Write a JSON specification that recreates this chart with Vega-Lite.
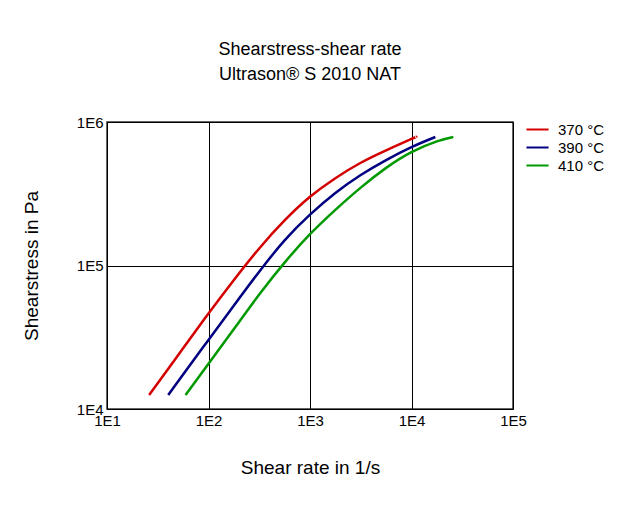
{
  "$schema": "https://vega.github.io/schema/vega-lite/v6.json",
  "autosize": {"type": "none"},
  "padding": {"left": 107, "top": 122, "right": 121, "bottom": 112},
  "width": 406,
  "height": 287,
  "background": "white",
  "title": {
    "text": ["Shearstress-shear rate", "Ultrason® S 2010 NAT"],
    "anchor": "middle",
    "font": "Liberation Sans",
    "fontSize": 18,
    "fontWeight": "normal",
    "color": "#000000",
    "lineHeight": 25,
    "offset": 31
  },
  "data": {
    "values": [
      {"temp": "370 °C", "rate": 26.0, "stress": 12500},
      {"temp": "370 °C", "rate": 31.6, "stress": 15100},
      {"temp": "370 °C", "rate": 56.2, "stress": 26500},
      {"temp": "370 °C", "rate": 100, "stress": 46300},
      {"temp": "370 °C", "rate": 178, "stress": 79300},
      {"temp": "370 °C", "rate": 316, "stress": 131500},
      {"temp": "370 °C", "rate": 562, "stress": 206000},
      {"temp": "370 °C", "rate": 1000, "stress": 301000},
      {"temp": "370 °C", "rate": 1778, "stress": 406000},
      {"temp": "370 °C", "rate": 3162, "stress": 520000},
      {"temp": "370 °C", "rate": 5623, "stress": 635000},
      {"temp": "370 °C", "rate": 10000, "stress": 762000},
      {"temp": "370 °C", "rate": 11120, "stress": 787000},
      {"temp": "390 °C", "rate": 40.1, "stress": 12500},
      {"temp": "390 °C", "rate": 56.2, "stress": 17400},
      {"temp": "390 °C", "rate": 100, "stress": 30300},
      {"temp": "390 °C", "rate": 178, "stress": 52700},
      {"temp": "390 °C", "rate": 316, "stress": 90600},
      {"temp": "390 °C", "rate": 562, "stress": 149600},
      {"temp": "390 °C", "rate": 1000, "stress": 226000},
      {"temp": "390 °C", "rate": 1778, "stress": 320000},
      {"temp": "390 °C", "rate": 3162, "stress": 427000},
      {"temp": "390 °C", "rate": 5623, "stress": 543000},
      {"temp": "390 °C", "rate": 10000, "stress": 668000},
      {"temp": "390 °C", "rate": 17180, "stress": 786000},
      {"temp": "410 °C", "rate": 59.4, "stress": 12500},
      {"temp": "410 °C", "rate": 100, "stress": 20700},
      {"temp": "410 °C", "rate": 178, "stress": 36100},
      {"temp": "410 °C", "rate": 316, "stress": 62800},
      {"temp": "410 °C", "rate": 562, "stress": 104800},
      {"temp": "410 °C", "rate": 1000, "stress": 165200},
      {"temp": "410 °C", "rate": 1778, "stress": 244300},
      {"temp": "410 °C", "rate": 3162, "stress": 349000},
      {"temp": "410 °C", "rate": 5623, "stress": 479000},
      {"temp": "410 °C", "rate": 10000, "stress": 617000},
      {"temp": "410 °C", "rate": 17780, "stress": 733000},
      {"temp": "410 °C", "rate": 25820, "stress": 787000}
    ]
  },
  "mark": {"type": "line", "strokeWidth": 2.5, "interpolate": "natural", "clip": true},
  "encoding": {
    "x": {
      "field": "rate",
      "type": "quantitative",
      "scale": {"type": "log", "domain": [10, 100000], "nice": false},
      "axis": {
        "values": [10, 100, 1000, 10000, 100000],
        "labelExpr": "'1E' + round(log(datum.value) / LN10)",
        "title": "Shear rate in 1/s",
        "titlePadding": 30,
        "labelPadding": 4,
        "labelFlush": false
      }
    },
    "y": {
      "field": "stress",
      "type": "quantitative",
      "scale": {"type": "log", "domain": [10000, 1000000], "nice": false},
      "axis": {
        "values": [10000, 100000, 1000000],
        "labelExpr": "'1E' + round(log(datum.value) / LN10)",
        "title": "Shearstress in Pa",
        "titlePadding": 35,
        "labelPadding": 4,
        "labelFlush": false
      }
    },
    "color": {
      "field": "temp",
      "type": "nominal",
      "scale": {"domain": ["370 °C", "390 °C", "410 °C"], "range": ["#d40000", "#000080", "#009900"]},
      "legend": {
        "title": null,
        "orient": "none",
        "legendX": 421,
        "legendY": -2,
        "symbolType": "M-1.3,0H1.3",
        "symbolSize": 289,
        "symbolStrokeWidth": 2,
        "labelOffset": 11,
        "rowPadding": 0,
        "padding": 0
      }
    }
  },
  "config": {
    "font": "Liberation Sans",
    "view": {"stroke": "#333333", "strokeWidth": 1.5},
    "axis": {
      "domain": false,
      "ticks": false,
      "grid": true,
      "gridColor": "#000000",
      "gridOpacity": 1,
      "gridWidth": 1,
      "labelFont": "Liberation Sans",
      "labelFontSize": 15,
      "labelColor": "#000000",
      "titleFont": "Liberation Sans",
      "titleFontSize": 19,
      "titleFontWeight": "normal",
      "titleColor": "#000000"
    },
    "legend": {
      "labelFont": "Liberation Sans",
      "labelFontSize": 15,
      "labelColor": "#000000"
    }
  }
}
